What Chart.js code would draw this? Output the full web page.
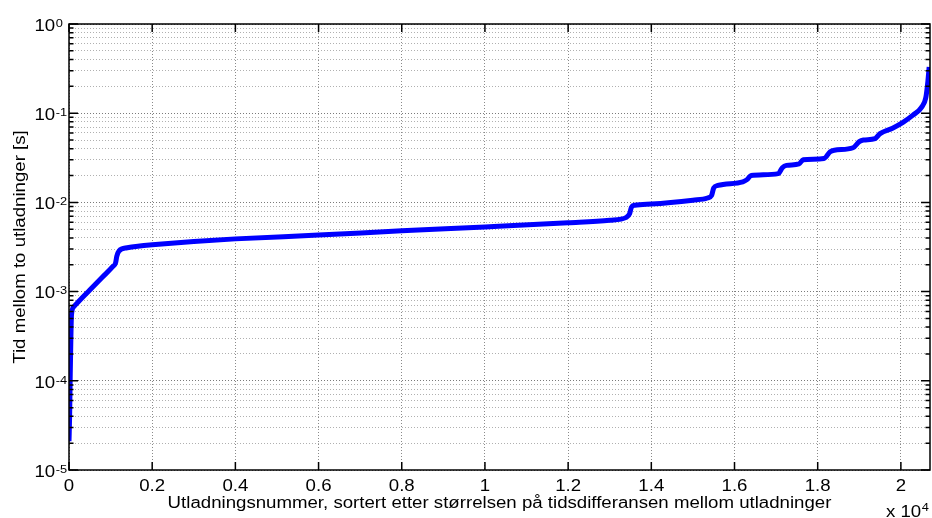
<!DOCTYPE html>
<html>
<head>
<meta charset="utf-8">
<script src="https://cdn.jsdelivr.net/npm/chart.js@4/dist/chart.umd.min.js"></script>
<style>
 body{margin:0;background:#fff;}
 #wrap{width:932px;height:518px;}
</style>
</head>
<body>
<div id="wrap"><canvas id="chart" width="932" height="518"></canvas></div>
<script>
// discharge number (sorted) and time between discharges [s]
var nr = [0, 15, 30, 45, 60, 120, 260, 500, 800, 1050, 1120, 1150, 1200, 1400, 1700, 2000, 3000, 4000,
          6000, 8000, 10000, 12000, 13000, 13400, 13480, 13520, 13600, 14000, 15000, 15350, 15450, 15500,
          15600, 16200, 16300, 16400, 17050, 17150, 17250, 17550, 17650, 18150, 18300, 18400, 18850,
          19000, 19100, 19380, 19500, 19800, 20050, 20290, 20500, 20600, 20650, 20680]
var tid = [2.1e-5, 4e-5, 1.2e-4, 3e-4, 5.5e-4, 6.8e-4, 8e-4, 1.04e-3, 1.45e-3, 1.9e-3, 2.1e-3, 2.5e-3, 2.85e-3,
           3.1e-3, 3.25e-3, 3.35e-3, 3.65e-3, 3.9e-3, 4.3e-3, 4.8e-3, 5.3e-3, 5.9e-3, 6.3e-3, 6.8e-3,
           7.5e-3, 8.8e-3, 9.3e-3, 9.6e-3, 1.06e-2, 1.12e-2, 1.2e-2, 1.45e-2, 1.55e-2, 1.7e-2, 1.8e-2,
           2.0e-2, 2.1e-2, 2.45e-2, 2.6e-2, 2.7e-2, 3.0e-2, 3.1e-2, 3.7e-2, 3.85e-2, 4.1e-2, 4.8e-2,
           5.0e-2, 5.2e-2, 5.9e-2, 6.8e-2, 7.9e-2, 9.5e-2, 0.117, 0.15, 0.23, 0.33]

var xMax = 20700
var xTicks = [0, 2000, 4000, 6000, 8000, 10000, 12000, 14000, 16000, 18000, 20000]
var xTickLabels = ['0', '0.2', '0.4', '0.6', '0.8', '1', '1.2', '1.4', '1.6', '1.8', '2']
var decades = [-5, -4, -3, -2, -1, 0]

var xTitle = 'Utladningsnummer, sortert etter størrelsen på tidsdifferansen mellom utladninger'
var yTitle = 'Tid mellom to utladninger [s]'

var FONT = "'Liberation Sans', Arial, sans-serif"
var STRETCH = 1.165   // the original text runs wider than Arial

function isDecade(v){
	var l = Math.log10(v)
	return Math.abs(l - Math.round(l)) < 1e-9
}

function txt(ctx, s, x, y, align, size, rot){
	ctx.save()
	ctx.translate(x, y)
	if (rot) ctx.rotate(rot)
	ctx.scale(STRETCH, 1)
	ctx.font = size + 'px ' + FONT
	ctx.textAlign = align
	ctx.textBaseline = 'alphabetic'
	ctx.fillStyle = '#000'
	ctx.fillText(s, 0, 0)
	var w = ctx.measureText(s).width * STRETCH
	ctx.restore()
	return w
}

// matlab style box, inner ticks and all text
var matlabAxes = {
	id: 'matlabAxes',
	afterDraw: function(chart){
		var ctx = chart.ctx, a = chart.chartArea
		var xs = chart.scales.x, ys = chart.scales.y
		ctx.save()
		ctx.strokeStyle = '#000'
		ctx.lineWidth = 1.5
		ctx.beginPath()
		xTicks.forEach(function(v){
			var px = xs.getPixelForValue(v)
			ctx.moveTo(px, a.bottom); ctx.lineTo(px, a.bottom - 8)
			ctx.moveTo(px, a.top); ctx.lineTo(px, a.top + 8)
		})
		ys.ticks.forEach(function(t){
			var py = ys.getPixelForValue(t.value)
			var len = isDecade(t.value) ? 9 : 4.5
			ctx.moveTo(a.left, py); ctx.lineTo(a.left + len, py)
			ctx.moveTo(a.right, py); ctx.lineTo(a.right - len, py)
		})
		ctx.stroke()
		ctx.strokeRect(a.left, a.top, a.right - a.left, a.bottom - a.top)
		ctx.restore()

		// x tick labels
		xTicks.forEach(function(v, i){
			txt(ctx, xTickLabels[i], xs.getPixelForValue(v), a.bottom + 20.5, 'center', 16)
		})
		// y tick labels 10^n
		decades.forEach(function(e){
			var py = ys.getPixelForValue(Math.pow(10, e))
			var w = txt(ctx, '10', 34.5, py + 6.7, 'left', 16)
			txt(ctx, String(e), 34.5 + w + 0.5, py + 2.7, 'left', 11)
		})
		// titles
		txt(ctx, xTitle, (a.left + a.right) / 2, 508, 'center', 16)
		txt(ctx, yTitle, 25, (a.top + a.bottom) / 2, 'center', 16, -Math.PI / 2)
		// multiplier
		var w2 = txt(ctx, 'x 10', 886, 516.5, 'left', 16)
		txt(ctx, '4', 886 + w2 + 0.5, 511, 'left', 11)
	}
}

var data = nr.map(function(n, i){ return {x: n, y: tid[i]} })

var myChart = document.getElementById('chart').getContext('2d')

var chart = new Chart(myChart, {
	type: 'line',
	data: {
		datasets: [{
			data: data,
			borderColor: '#0000ff',
			backgroundColor: '#0000ff',
			borderWidth: 5,
			pointRadius: 0,
			cubicInterpolationMode: 'monotone',
			fill: false
		}]
	},
	options: {
		responsive: false,
		animation: false,
		layout: {padding: {left: 0, top: 24, right: 2, bottom: 0}},
		plugins: {legend: {display: false}, tooltip: {enabled: false}},
		scales: {
			x: {
				type: 'linear',
				min: 0,
				max: xMax,
				afterFit: function(s){ s.height = 48 },
				afterBuildTicks: function(s){
					s.ticks = xTicks.map(function(v){ return {value: v} })
				},
				ticks: {display: false, autoSkip: false},
				grid: {color: '#8a8a8a', lineWidth: 1, drawTicks: false},
				border: {display: false, dash: [1, 2]}
			},
			y: {
				type: 'logarithmic',
				min: 1e-5,
				max: 1,
				afterFit: function(s){ s.width = 69 },
				afterBuildTicks: function(s){
					var t = []
					for (var e = -5; e < 0; e++){
						for (var m = 1; m <= 9; m++) t.push({value: m * Math.pow(10, e)})
					}
					t.push({value: 1})
					s.ticks = t
				},
				ticks: {display: false},
				grid: {
					color: function(c){ return c.tick && isDecade(c.tick.value) ? '#7a7a7a' : '#b0b0b0' },
					lineWidth: 1,
					drawTicks: false
				},
				border: {display: false, dash: [1, 2]}
			}
		}
	},
	plugins: [matlabAxes]
})
</script>
</body>
</html>
